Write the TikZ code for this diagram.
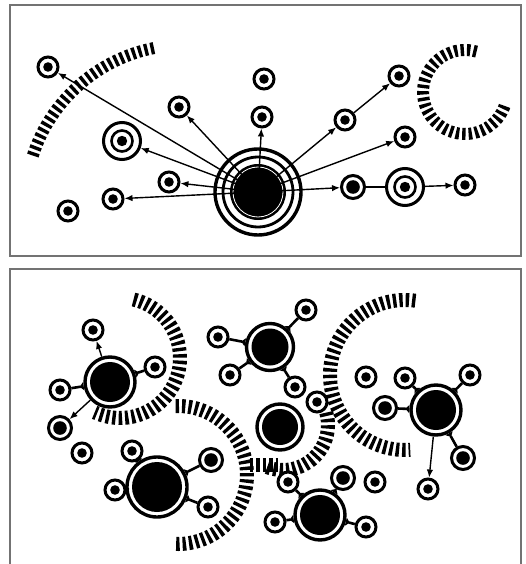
\documentclass[tikz,border=0pt]{standalone}
\usetikzlibrary{arrows.meta}
\tikzset{
  sat/.style     = {draw, circle, line width=3pt, fill=white, inner sep=0pt,
                    minimum size=20pt,
                    path picture={\fill[black] (path picture bounding box.center) circle (4.8pt);}},
  satdark/.style = {draw, circle, line width=3pt, fill=white, inner sep=0pt,
                    minimum size=23pt,
                    path picture={\fill[black] (path picture bounding box.center) circle (6.8pt);}},
  ringsat/.style = {draw, circle, line width=3pt, fill=white, inner sep=0pt,
                    minimum size=37pt,
                    path picture={\draw[black,line width=2.6pt] (path picture bounding box.center) circle (10.5pt);
                                  \fill[black] (path picture bounding box.center) circle (5.2pt);}},
  hub/.style     = {draw, circle, line width=3.4pt, inner sep=0pt, minimum size=86pt,
                    path picture={\draw[line width=2.8pt] (path picture bounding box.center) circle (35pt);
                                  \fill (path picture bounding box.center) circle (28pt);
                                  \draw[white,line width=.8pt] (path picture bounding box.center) circle (25pt);}},
  core/.style    = {draw, circle, line width=3.4pt, fill=white, inner sep=0pt, minimum size=#1,
                    path picture={\fill[black] (path picture bounding box.center) circle[radius=#1/2-5pt];}},
  hatch/.style   = {line width=14pt, dash pattern=on 3.4pt off 3pt},
  frame/.style   = {draw=black!55, line width=1.2pt},
  sig/.style     = {-{Latex[length=8pt,width=6.5pt]}, line width=1.4pt},
  link/.style    = {line width=2.6pt, -{Triangle[reversed,length=4pt,width=8pt]}},
}

\begin{document}
\begin{tikzpicture}[x=1pt,y=-1pt]
\useasboundingbox (0,0) rectangle (526,564);
% ---------- top panel ----------
\draw[frame] (10,5) rectangle (521,256);
\draw[hatch, line width=12pt] (185,205) ++(-162:160) arc[start angle=-162, end angle=-101, radius=160];
\draw[hatch, line width=12pt] (465,92) ++(-74:42) arc[start angle=-74, end angle=-343, radius=42];
\node[sat] (a) at (48,67) {};
\node[sat] (b) at (179,107) {};
\node[ringsat] (c) at (122,141) {};
\node[sat] (d) at (169,182) {};
\node[sat] (e) at (113,199) {};
\node[sat] (f) at (68,211) {};
\node[sat] (g) at (264,79) {};
\node[sat] (h) at (262,117) {};
\node[sat] (i) at (345,120) {};
\node[sat] (j) at (399,76) {};
\node[sat] (k) at (405,137) {};
\node[satdark] (l) at (353,187) {};
\node[ringsat] (m) at (405,187) {};
\node[sat] (n) at (465,185) {};
\node[hub] (hub) at (258,192) {};
\foreach \t in {a,b,c,d,e,h,i,k,l}
  \draw[sig] (hub.center) -- (\t);
\draw[sig] (i) -- (j);
\draw[line width=1.4pt] (l) -- (m);
\draw[sig] (m) -- (n);
% ---------- bottom panel ----------
\draw[frame] (10,564) -- (10,269) -- (521,269) -- (521,564);
\draw[hatch] (120,358) ++(-77:60) arc[start angle=-77, end angle=115, radius=60];
\draw[hatch] (178,475) ++(-92:69) arc[start angle=-92, end angle=94, radius=69];
\draw[hatch] (283,425) ++(-16:45) arc[start angle=-16, end angle=112, radius=45];
\draw[hatch] (250,465) -- (278,465);
\draw[hatch] (405,375) ++(-82:75) arc[start angle=-82, end angle=-274, radius=75];
% cluster 1
\node[core=50pt] (c1) at (110,382) {};
\node[sat] (s1a) at (93,330) {};
\node[sat] (s1b) at (60,390) {};
\node[sat] (s1c) at (155,367) {};
\node[satdark] (s1d) at (60,428) {};
\node[sat] (s1e) at (82,453) {};
\draw[sig] (c1) -- (s1a);
\draw[sig] (c1) -- (s1d);
\draw[link] (s1b) -- (c1);
\draw[link] (s1c) -- (c1);
% cluster 2
\node[core=60pt] (c2) at (157,487) {};
\node[sat] (s2a) at (132,451) {};
\node[sat] (s2b) at (115,490) {};
\node[satdark] (s2c) at (211,460) {};
\node[sat] (s2d) at (208,507) {};
\foreach \t in {s2a,s2b,s2c,s2d}
  \draw[link] (\t) -- (c2);
% cluster 3
\node[core=47pt] (c3) at (270,347) {};
\node[sat] (s3a) at (218,337) {};
\node[sat] (s3b) at (230,375) {};
\node[sat] (s3c) at (306,310) {};
\node[sat] (s3d) at (295,387) {};
\foreach \t in {s3a,s3b,s3c,s3d}
  \draw[link] (\t) -- (c3);
% cluster 4
\node[core=46pt] (c4) at (280,427) {};
\node[sat] (s4a) at (317,402) {};
% cluster 5
\node[core=50pt] (c5) at (320,515) {};
\node[sat] (s5a) at (288,482) {};
\node[sat] (s5b) at (275,522) {};
\node[satdark] (s5c) at (343,478) {};
\node[sat] (s5d) at (366,527) {};
\node[sat] (s5e) at (375,482) {};
\foreach \t in {s5a,s5b,s5c,s5d}
  \draw[link] (\t) -- (c5);
% cluster 6
\node[core=50pt] (c6) at (436,410) {};
\node[sat] (s6a) at (405,378) {};
\node[satdark] (s6b) at (385,408) {};
\node[sat] (s6c) at (470,375) {};
\node[satdark] (s6d) at (463,458) {};
\node[sat] (s6e) at (428,489) {};
\node[sat] (s6f) at (366,377) {};
\foreach \t in {s6a,s6b,s6c,s6d}
  \draw[link] (\t) -- (c6);
\draw[sig] (c6) -- (s6e);
\end{tikzpicture}
\end{document}
